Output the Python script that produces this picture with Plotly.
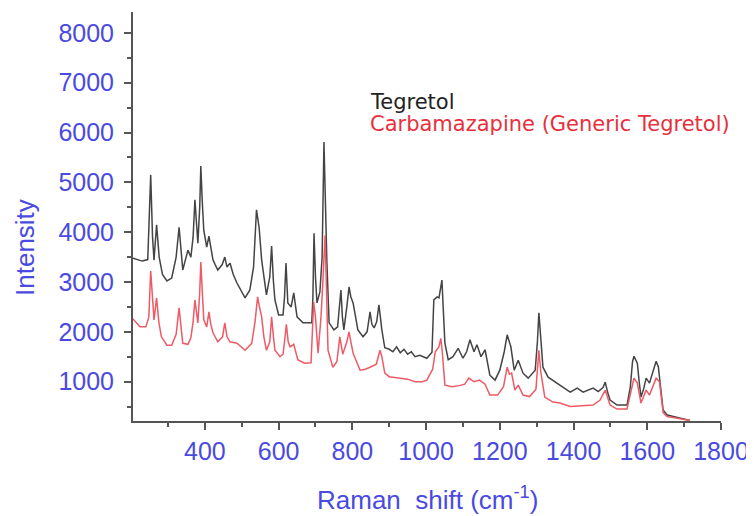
import plotly.graph_objects as go

# ---- data ----
tegretol_x = [205, 215, 230, 245, 253, 258, 262, 269, 276, 285, 297, 310, 322, 330, 336, 340, 354, 362, 368, 373,
              378, 381, 386, 389, 393, 397, 405, 411, 416, 422, 435, 447, 454, 460, 468, 477, 487, 500, 509, 522,
              532, 540, 547, 554, 567, 576, 581, 586, 590, 600, 612, 616, 620, 625, 634, 641, 650, 666, 690, 693,
              696, 700, 704, 712, 718, 723, 728, 731, 737, 750, 760, 769, 773, 777, 785, 791, 796, 802, 815, 829,
              840, 848, 853, 859, 866, 872, 876, 880, 888, 900, 910, 920, 930, 940, 950, 960, 970, 983, 1002, 1016,
              1021, 1030, 1035, 1043, 1047, 1051, 1060, 1073, 1087, 1100, 1110, 1119, 1130, 1138, 1149, 1160, 1173,
              1187, 1200, 1212, 1220, 1230, 1239, 1250, 1263, 1277, 1296, 1302, 1306, 1311, 1317, 1331, 1363, 1391,
              1410, 1426, 1453, 1467, 1480, 1486, 1492, 1499, 1518, 1545, 1554, 1560, 1564, 1568, 1573, 1578, 1583,
              1590, 1597, 1606, 1615, 1624, 1630, 1633, 1643, 1654, 1689, 1716]
tegretol_y = [3480, 3450, 3420, 3450, 5150, 3900, 3440, 4150, 3500, 3150, 3020, 3080, 3500, 4100, 3500, 3240, 3640, 3500, 3900, 4650,
              4100, 3780, 4500, 5330, 4600, 4040, 3700, 3920, 3700, 3440, 3240, 3350, 3500, 3300, 3380, 3150, 2980, 2800, 2680, 2840,
              3300, 4450, 4100, 3440, 2740, 3100, 3720, 3000, 2640, 2340, 2340, 2700, 3380, 2580, 2500, 2780, 2300, 2180, 2180, 2700,
              3980, 3100, 2580, 2800, 3500, 5810, 4200, 3380, 2180, 2040, 2100, 2840, 2300, 2040, 2500, 2900, 2700, 2580, 2040, 1900,
              2000, 2400, 2150, 2080, 2200, 2540, 2300, 2040, 1680, 1650, 1600, 1700, 1580, 1650, 1550, 1600, 1500, 1530, 1470, 1590,
              2640, 2700, 2680, 3040, 2400, 1780, 1440, 1500, 1670, 1470, 1600, 1840, 1600, 1740, 1500, 1640, 1130,
              1030, 1230, 1600, 1940, 1700, 1230, 1430, 1170, 1070, 1230, 1800, 2380, 1800, 1290, 1090, 930, 790,
              870, 790, 870, 800, 880, 990, 800, 630, 530, 530, 890, 1400, 1510, 1450, 1370, 1000, 690,
              850, 1070, 970, 1200, 1410, 1300, 1090, 430, 330, 270, 220]

generic_x = [205, 224, 240, 248, 253, 258, 262, 269, 275, 282, 297, 310, 322, 330, 336, 340, 354, 362, 368, 373,
             378, 381, 386, 389, 393, 397, 405, 411, 416, 422, 435, 448, 454, 460, 468, 487, 509, 527, 536, 543,
             548, 554, 560, 567, 576, 581, 586, 590, 604, 612, 616, 621, 626, 631, 641, 652, 670, 688, 695, 700,
             707, 715, 720, 726, 730, 734, 747, 758, 766, 774, 785, 791, 796, 802, 821, 835, 848, 865, 875, 880,
             888, 900, 920, 950, 970, 990, 1002, 1018, 1025, 1030, 1035, 1040, 1044, 1051, 1070, 1090, 1105, 1116,
             1130, 1145, 1160, 1173, 1194, 1210, 1215, 1220, 1226, 1232, 1241, 1250, 1263, 1281, 1298, 1302, 1306,
             1311, 1322, 1344, 1363, 1391, 1426, 1453, 1472, 1486, 1499, 1518, 1545, 1557, 1564, 1573, 1583, 1597,
             1606, 1615, 1624, 1633, 1643, 1654, 1689, 1716]
generic_y = [2260, 2100, 2100, 2300, 3220, 2600, 2240, 2680, 2200, 1900, 1730, 1730, 1950, 2480, 2000, 1770, 1750, 1880, 2200, 2640,
             2350, 2180, 2800, 3400, 2800, 2240, 2100, 2400, 2150, 1980, 1800, 1900, 2180, 1900, 1800, 1770, 1630, 1770, 2200, 2700,
             2500, 2300, 1900, 1630, 1800, 2300, 1900, 1630, 1500, 1550, 1800, 2150, 1800, 1700, 1750, 1440, 1370, 1380, 2600, 2300,
             1570, 2300, 3000, 3940, 2800, 1630, 1290, 1400, 1900, 1550, 1800, 2000, 1800, 1570, 1230, 1250, 1290, 1350, 1630, 1500,
             1170, 1100, 1080, 1050, 1000, 1000, 1030, 1250, 1600, 1650, 1700, 1870, 1600, 930, 900, 920, 950, 1070,
             1000, 1030, 950, 730, 730, 900, 1100, 1290, 1150, 1170, 830, 930, 730, 700, 850, 1300, 1630,
             1200, 690, 590, 570, 500, 520, 530, 630, 830, 530, 450, 450, 830, 1070, 970, 570, 830,
             730, 900, 1070, 1000, 380, 300, 250, 220]

series_names = ["Tegretol", "Carbamazapine (Generic Tegretol)"]
x_ticks = [400, 600, 800, 1000, 1200, 1400, 1600, 1800]
y_ticks = [1000, 2000, 3000, 4000, 5000, 6000, 7000, 8000]

BLUE = "#4a4ae0"
BLACK = "#444444"
RED = "#ee5a66"
FONT = "Liberation Sans, Arial, sans-serif"

fig = go.Figure()
fig.add_trace(go.Scatter(x=tegretol_x, y=tegretol_y, mode="lines", name=series_names[0],
                         line=dict(color=BLACK, width=1.5)))
fig.add_trace(go.Scatter(x=generic_x, y=generic_y, mode="lines", name=series_names[1],
                         line=dict(color=RED, width=1.5)))

axis_common = dict(showline=True, linecolor="#555555", linewidth=2, showgrid=False, zeroline=False,
                   ticks="outside", tickcolor="#555555", tickwidth=2, ticklen=7,
                   tickfont=dict(family=FONT, size=25, color=BLUE),
                   mirror=False)

fig.update_xaxes(range=[205, 1800], tickvals=x_ticks, ticktext=[str(v) for v in x_ticks],
                 minor=dict(dtick=100, tick0=0, ticks="outside", ticklen=4, tickcolor="#555555", tickwidth=1.5),
                 **axis_common)
fig.update_yaxes(range=[210, 8420], tickvals=y_ticks, ticktext=[str(v) for v in y_ticks],
                 minor=dict(dtick=500, tick0=0, ticks="outside", ticklen=4, tickcolor="#555555", tickwidth=1.5),
                 ticklabelstandoff=5,
                 **axis_common)

fig.add_annotation(text="Intensity", textangle=-90, xref="paper", yref="paper",
                   x=-0.184, y=0.425, xanchor="center", yanchor="middle", showarrow=False,
                   font=dict(family=FONT, size=26, color=BLUE))
fig.add_annotation(text="Raman  shift (cm<sup>-1</sup>)", xref="paper", yref="paper",
                   x=0.5, y=-0.19, xanchor="center", yanchor="middle", showarrow=False,
                   font=dict(family=FONT, size=26, color=BLUE))

fig.add_annotation(text=series_names[0], xref="paper", yref="paper", x=0.399, y=0.780,
                   xanchor="left", yanchor="middle", showarrow=False,
                   font=dict(family="DejaVu Sans, Verdana, sans-serif", size=21, color="#222222"))
fig.add_annotation(text=series_names[1], xref="paper", yref="paper", x=0.399, y=0.726,
                   xanchor="left", yanchor="middle", showarrow=False,
                   font=dict(family="DejaVu Sans, Verdana, sans-serif", size=21, color="#e8303c"))

# the page body adds an 8px offset, so the figure is 8px smaller and margins shifted accordingly
fig.update_layout(width=746, height=508, margin=dict(l=125, r=33, t=4, b=95),
                  paper_bgcolor="white", plot_bgcolor="white", showlegend=False)

fig.write_html("out.html")
